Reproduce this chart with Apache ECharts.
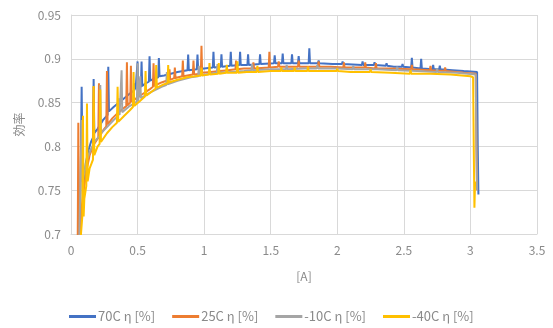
<!DOCTYPE html>
<html><head><meta charset="utf-8">
<script src="https://cdn.jsdelivr.net/npm/echarts@6/dist/echarts.min.js"></script>
<style>html,body{margin:0;padding:0;background:#fff}#c{width:553px;height:328px}</style>
</head><body><div id="c"></div>
<script>
const seriesNames = ['70C η [%]', '25C η [%]', '-10C η [%]', '-40C η [%]'];
const seriesColors = ['#4472C4', '#ED7D31', '#A5A5A5', '#FFC000'];
const xTicks = [0, 0.5, 1, 1.5, 2, 2.5, 3, 3.5];
const yTicks = [0.7, 0.75, 0.8, 0.85, 0.9, 0.95];

const data70C = [[0.065,0.68],[0.075,0.80],[0.08,0.868],[0.085,0.80],[0.09,0.77],[0.10,0.76],[0.11,0.78],[0.13,0.795],[0.15,0.805],[0.165,0.81],[0.17,0.877],[0.175,0.815],[0.20,0.82],[0.24,0.83],[0.275,0.836],[0.28,0.891],[0.285,0.84],[0.32,0.845],[0.36,0.85],[0.40,0.855],[0.44,0.86],[0.475,0.864],[0.48,0.872],[0.485,0.865],[0.495,0.866],[0.50,0.897],[0.505,0.867],[0.525,0.868],[0.53,0.897],[0.535,0.869],[0.56,0.872],[0.585,0.874],[0.59,0.903],[0.595,0.875],[0.62,0.877],[0.655,0.879],[0.66,0.901],[0.665,0.88],[0.70,0.881],[0.75,0.883],[0.80,0.885],[0.875,0.887],[0.88,0.905],[0.885,0.887],[0.945,0.888],[0.95,0.905],[0.955,0.888],[1.00,0.889],[1.065,0.89],[1.07,0.908],[1.075,0.89],[1.125,0.891],[1.13,0.905],[1.135,0.891],[1.195,0.892],[1.20,0.908],[1.205,0.892],[1.265,0.893],[1.27,0.908],[1.275,0.893],[1.325,0.893],[1.33,0.905],[1.335,0.893],[1.415,0.894],[1.42,0.905],[1.425,0.894],[1.525,0.895],[1.53,0.904],[1.535,0.895],[1.585,0.895],[1.59,0.906],[1.595,0.895],[1.655,0.895],[1.66,0.905],[1.665,0.895],[1.705,0.895],[1.71,0.903],[1.715,0.895],[1.785,0.895],[1.79,0.912],[1.795,0.895],[1.855,0.895],[1.86,0.898],[1.865,0.895],[1.965,0.894],[1.97,0.896],[1.975,0.894],[2.035,0.894],[2.04,0.897],[2.045,0.894],[2.185,0.893],[2.19,0.897],[2.195,0.893],[2.275,0.893],[2.28,0.896],[2.285,0.893],[2.365,0.892],[2.37,0.895],[2.375,0.892],[2.425,0.891],[2.43,0.893],[2.435,0.891],[2.485,0.891],[2.49,0.894],[2.495,0.891],[2.555,0.890],[2.56,0.901],[2.565,0.890],[2.625,0.889],[2.63,0.900],[2.635,0.889],[2.715,0.888],[2.72,0.893],[2.725,0.888],[2.765,0.888],[2.77,0.892],[2.775,0.888],[2.865,0.887],[2.87,0.889],[2.875,0.887],[2.95,0.886],[3.05,0.885],[3.055,0.80],[3.06,0.745]];

const data25C = [[0.05,0.68],[0.055,0.827],[0.06,0.70],[0.065,0.69],[0.08,0.73],[0.10,0.755],[0.12,0.775],[0.14,0.79],[0.165,0.80],[0.17,0.868],[0.175,0.803],[0.205,0.81],[0.21,0.872],[0.215,0.812],[0.24,0.818],[0.265,0.823],[0.27,0.886],[0.275,0.825],[0.31,0.832],[0.35,0.838],[0.39,0.843],[0.415,0.846],[0.42,0.896],[0.425,0.847],[0.445,0.85],[0.45,0.892],[0.455,0.851],[0.50,0.856],[0.55,0.861],[0.59,0.865],[0.615,0.868],[0.62,0.895],[0.625,0.869],[0.68,0.873],[0.735,0.876],[0.74,0.888],[0.745,0.876],[0.775,0.878],[0.78,0.89],[0.785,0.878],[0.835,0.880],[0.84,0.898],[0.845,0.880],[0.915,0.882],[0.92,0.898],[0.925,0.882],[0.975,0.883],[0.98,0.915],[0.985,0.884],[1.05,0.885],[1.12,0.886],[1.18,0.887],[1.235,0.888],[1.24,0.898],[1.245,0.888],[1.30,0.889],[1.365,0.889],[1.37,0.896],[1.375,0.889],[1.485,0.890],[1.49,0.908],[1.495,0.890],[1.555,0.891],[1.56,0.897],[1.565,0.891],[1.705,0.891],[1.71,0.898],[1.715,0.891],[1.855,0.891],[1.86,0.897],[1.865,0.891],[1.95,0.891],[2.045,0.890],[2.05,0.896],[2.055,0.890],[2.205,0.890],[2.21,0.896],[2.215,0.890],[2.285,0.889],[2.29,0.895],[2.295,0.889],[2.40,0.889],[2.555,0.888],[2.56,0.893],[2.565,0.888],[2.695,0.887],[2.70,0.892],[2.705,0.887],[2.805,0.886],[2.81,0.890],[2.815,0.886],[2.95,0.884],[3.04,0.883],[3.045,0.80],[3.05,0.75]];

const dataM10C = [[0.06,0.68],[0.07,0.75],[0.075,0.79],[0.08,0.83],[0.085,0.76],[0.10,0.77],[0.12,0.785],[0.15,0.797],[0.18,0.806],[0.215,0.812],[0.22,0.87],[0.225,0.815],[0.27,0.822],[0.32,0.83],[0.355,0.835],[0.36,0.855],[0.365,0.836],[0.375,0.838],[0.38,0.887],[0.385,0.839],[0.44,0.846],[0.495,0.851],[0.50,0.895],[0.505,0.852],[0.515,0.854],[0.52,0.88],[0.525,0.855],[0.60,0.862],[0.68,0.868],[0.715,0.870],[0.72,0.885],[0.725,0.871],[0.80,0.875],[0.90,0.879],[0.955,0.880],[0.96,0.892],[0.965,0.881],[1.05,0.883],[1.095,0.884],[1.10,0.894],[1.105,0.884],[1.20,0.885],[1.30,0.886],[1.355,0.887],[1.36,0.894],[1.365,0.887],[1.50,0.888],[1.615,0.888],[1.62,0.893],[1.625,0.888],[1.75,0.889],[1.845,0.889],[1.85,0.893],[1.855,0.889],[2.0,0.889],[2.115,0.888],[2.12,0.892],[2.125,0.888],[2.3,0.888],[2.445,0.887],[2.45,0.891],[2.455,0.887],[2.6,0.886],[2.745,0.885],[2.75,0.889],[2.755,0.885],[2.9,0.884],[3.04,0.882],[3.045,0.80],[3.05,0.75]];

const dataM40C = [[0.06,0.68],[0.075,0.70],[0.085,0.72],[0.09,0.835],[0.095,0.72],[0.10,0.74],[0.115,0.755],[0.12,0.849],[0.125,0.76],[0.14,0.775],[0.165,0.785],[0.17,0.869],[0.175,0.79],[0.20,0.80],[0.215,0.803],[0.22,0.865],[0.225,0.805],[0.27,0.815],[0.31,0.822],[0.345,0.827],[0.35,0.868],[0.355,0.828],[0.40,0.835],[0.44,0.841],[0.465,0.845],[0.47,0.885],[0.475,0.846],[0.52,0.852],[0.555,0.857],[0.56,0.886],[0.565,0.858],[0.61,0.863],[0.635,0.866],[0.64,0.893],[0.645,0.867],[0.70,0.871],[0.725,0.872],[0.73,0.893],[0.735,0.873],[0.80,0.876],[0.87,0.879],[0.93,0.880],[0.975,0.881],[0.98,0.89],[0.985,0.881],[1.035,0.882],[1.04,0.895],[1.045,0.882],[1.105,0.883],[1.11,0.895],[1.115,0.883],[1.165,0.884],[1.17,0.893],[1.175,0.884],[1.245,0.884],[1.25,0.897],[1.255,0.884],[1.32,0.885],[1.395,0.885],[1.40,0.892],[1.405,0.885],[1.50,0.886],[1.575,0.886],[1.58,0.890],[1.585,0.886],[1.675,0.886],[1.68,0.89],[1.685,0.886],[1.775,0.886],[1.78,0.891],[1.785,0.886],[1.9,0.886],[1.995,0.886],[2.0,0.889],[2.005,0.886],[2.1,0.885],[2.245,0.885],[2.25,0.888],[2.255,0.885],[2.4,0.884],[2.545,0.883],[2.55,0.887],[2.555,0.883],[2.7,0.883],[2.85,0.882],[3.0,0.880],[3.02,0.879],[3.025,0.80],[3.03,0.73],[3.035,0.76]];

const allData = [data70C, data25C, dataM10C, dataM40C];
const FONT = '"Noto Sans CJK JP", "Noto Sans", sans-serif';
const TXT = '#8a8a8a';
const chart = echarts.init(document.getElementById('c'), null, {renderer: 'canvas'});
chart.setOption({
  animation: false,
  backgroundColor: '#fff',
  grid: {left: 71, right: 16, top: 15, bottom: 94, containLabel: false},
  legend: {
    data: seriesNames, left: 64, top: 305, itemWidth: 27, itemHeight: 3, itemGap: 17, icon: 'rect',
    textStyle: {color: TXT, fontSize: 13, fontFamily: FONT, padding: [0,0,0,-3]}
  },
  xAxis: {
    type: 'value', min: xTicks[0], max: xTicks[xTicks.length-1], interval: 0.5,
    name: '[A]', nameLocation: 'middle', nameGap: 36,
    nameTextStyle: {color: TXT, fontSize: 12, fontFamily: FONT},
    axisLine: {show: true, lineStyle: {color: '#D9D9D9', width: 1}},
    axisTick: {show: false},
    axisLabel: {color: TXT, fontSize: 12, fontFamily: FONT, margin: 10},
    splitLine: {show: true, lineStyle: {color: '#D9D9D9', width: 1}}
  },
  yAxis: {
    type: 'value', min: yTicks[0], max: yTicks[yTicks.length-1], interval: 0.05,
    name: '効率', nameLocation: 'middle', nameGap: 46, nameRotate: 90,
    nameTextStyle: {color: TXT, fontSize: 12, fontFamily: FONT},
    axisLine: {show: true, lineStyle: {color: '#D9D9D9', width: 1}},
    axisTick: {show: false},
    axisLabel: {color: TXT, fontSize: 12, fontFamily: FONT, margin: 10},
    splitLine: {show: true, lineStyle: {color: '#D9D9D9', width: 1}}
  },
  series: allData.map((d, i) => ({
    name: seriesNames[i], type: 'line', data: d, showSymbol: false, symbol: 'none',
    color: seriesColors[i], lineStyle: {width: 2, color: seriesColors[i]}, clip: true
  }))
});
</script></body></html>
